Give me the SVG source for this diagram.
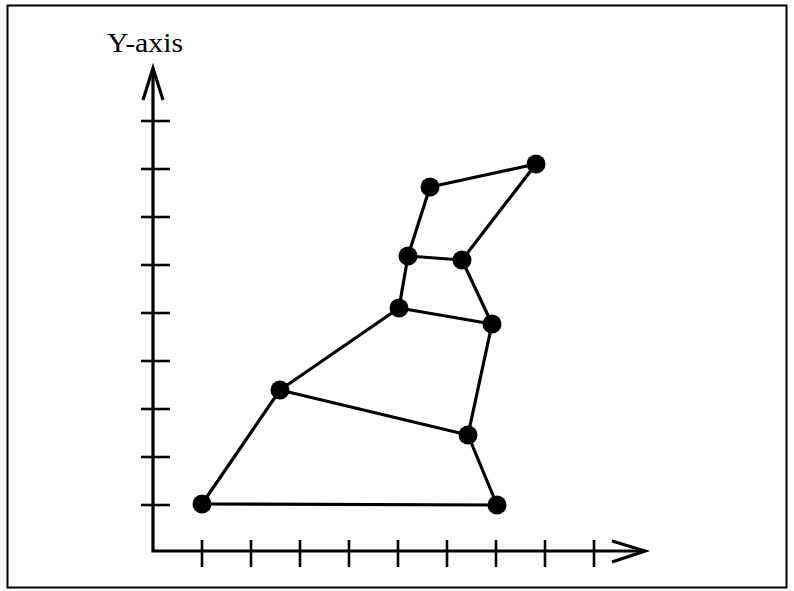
<svg xmlns="http://www.w3.org/2000/svg" width="794" height="591" viewBox="0 0 794 591">
<style>
.ax{stroke:#000;stroke-width:3.2;fill:none}
.tk{stroke:#000;stroke-width:2.6}
.ed{stroke:#000;stroke-width:3.2;fill:none}
.nd{fill:#000}
.lbl{font-family:"Liberation Serif","DejaVu Serif",serif;font-size:28px;fill:#000}
</style>
<rect x="7.5" y="5.5" width="779" height="582" fill="#fff" stroke="#000" stroke-width="2"/>
<g id="axes">
<path class="ax" d="M153,70 V551 H643"/>
<path class="ax" d="M143,100 L153,68 L163,100"/>
<path class="ax" d="M612,541 L645,551 L612,562"/>
<g class="tk">
<line x1="141" y1="121" x2="170" y2="121"/>
<line x1="141" y1="169" x2="170" y2="169"/>
<line x1="141" y1="217" x2="170" y2="217"/>
<line x1="141" y1="265" x2="170" y2="265"/>
<line x1="141" y1="313" x2="170" y2="313"/>
<line x1="141" y1="361" x2="170" y2="361"/>
<line x1="141" y1="409" x2="170" y2="409"/>
<line x1="141" y1="457" x2="170" y2="457"/>
<line x1="141" y1="505" x2="170" y2="505"/>
<line x1="202" y1="540" x2="202" y2="567"/>
<line x1="251" y1="540" x2="251" y2="567"/>
<line x1="300" y1="540" x2="300" y2="567"/>
<line x1="349" y1="540" x2="349" y2="567"/>
<line x1="398" y1="540" x2="398" y2="567"/>
<line x1="447" y1="540" x2="447" y2="567"/>
<line x1="496" y1="540" x2="496" y2="567"/>
<line x1="545" y1="540" x2="545" y2="567"/>
<line x1="594" y1="540" x2="594" y2="567"/>
</g>
<text class="lbl" x="107" y="52" textLength="76" lengthAdjust="spacingAndGlyphs">Y-axis</text>
</g>
<g id="connectors">
<line class="ed" x1="202" y1="504" x2="497" y2="505"/>
<line class="ed" x1="202" y1="504" x2="280" y2="390"/>
<line class="ed" x1="280" y1="390" x2="468" y2="435"/>
<line class="ed" x1="468" y1="435" x2="497" y2="505"/>
<line class="ed" x1="280" y1="390" x2="399" y2="308"/>
<line class="ed" x1="399" y1="308" x2="492" y2="324"/>
<line class="ed" x1="492" y1="324" x2="468" y2="435"/>
<line class="ed" x1="399" y1="308" x2="408" y2="256"/>
<line class="ed" x1="408" y1="256" x2="462" y2="260"/>
<line class="ed" x1="462" y1="260" x2="492" y2="324"/>
<line class="ed" x1="408" y1="256" x2="430" y2="187"/>
<line class="ed" x1="430" y1="187" x2="536" y2="164"/>
<line class="ed" x1="536" y1="164" x2="462" y2="260"/>
</g>
<g id="nA"><circle class="nd" cx="202" cy="504" r="9.5"/></g>
<g id="nB"><circle class="nd" cx="497" cy="505" r="9.5"/></g>
<g id="nC"><circle class="nd" cx="468" cy="435" r="9.5"/></g>
<g id="nD"><circle class="nd" cx="280" cy="390" r="9.5"/></g>
<g id="nE"><circle class="nd" cx="399" cy="308" r="9.5"/></g>
<g id="nF"><circle class="nd" cx="492" cy="324" r="9.5"/></g>
<g id="nG"><circle class="nd" cx="408" cy="256" r="9.5"/></g>
<g id="nH"><circle class="nd" cx="462" cy="260" r="9.5"/></g>
<g id="nI"><circle class="nd" cx="430" cy="187" r="9.5"/></g>
<g id="nJ"><circle class="nd" cx="536" cy="164" r="9.5"/></g>
</svg>
